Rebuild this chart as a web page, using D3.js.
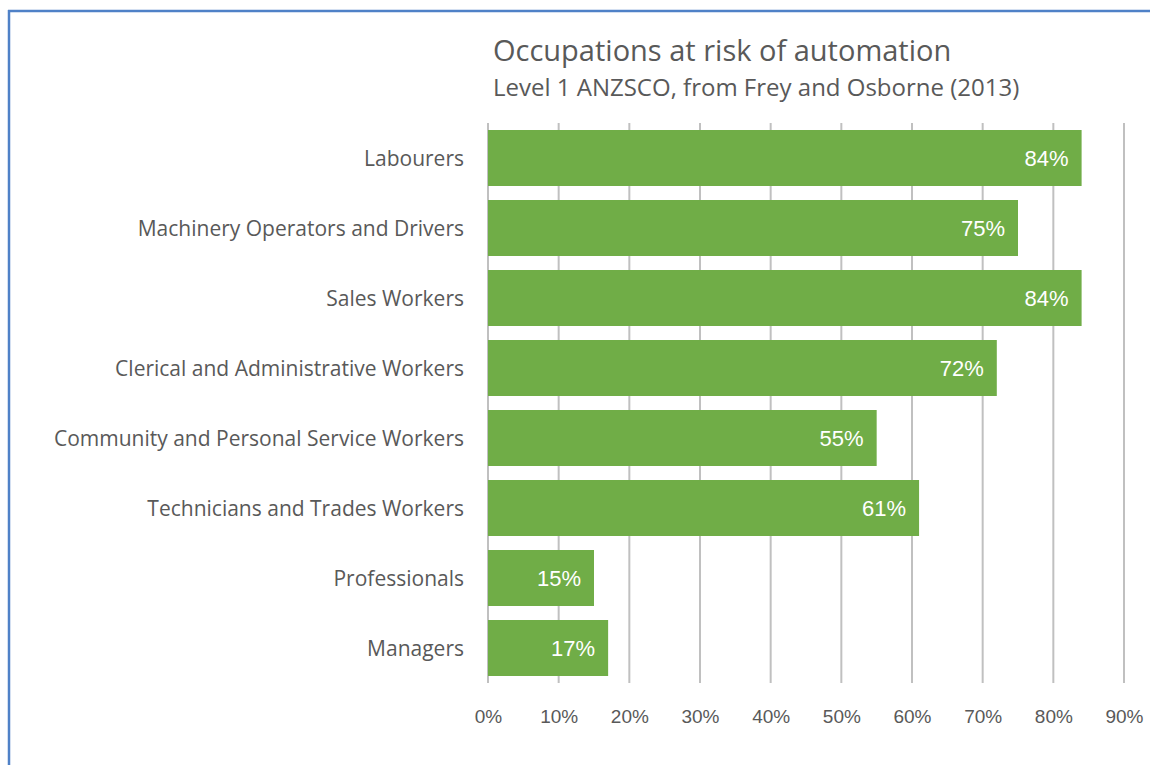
<!DOCTYPE html>
<html>
<head>
<meta charset="utf-8">
<script src="https://cdn.jsdelivr.net/npm/d3@7"></script>
<style>
  body { margin: 0; background: #fff; }
  svg { display: block; }
</style>
</head>
<body>
<script>
var categories = ["Labourers", "Machinery Operators and Drivers", "Sales Workers",
  "Clerical and Administrative Workers", "Community and Personal Service Workers",
  "Technicians and Trades Workers", "Professionals", "Managers"];
var values = [0.84, 0.75, 0.84, 0.72, 0.55, 0.61, 0.15, 0.17];
var tickValues = [0, 0.1, 0.2, 0.3, 0.4, 0.5, 0.6, 0.7, 0.8, 0.9];

var width = 1150, height = 765;
var margins = { top: 123, bottom: 82, left: 488, right: 26 };

var svg = d3.select("body").append("svg")
  .attr("width", width)
  .attr("height", height);

// blue frame (top and left edges only visible)
svg.append("line").attr("x1", 8).attr("x2", width).attr("y1", 11).attr("y2", 11)
  .attr("stroke", "#4f81c7").attr("stroke-width", 2.5);
svg.append("line").attr("x1", 9).attr("x2", 9).attr("y1", 10).attr("y2", height)
  .attr("stroke", "#4f81c7").attr("stroke-width", 2.5);

var x = d3.scaleLinear().domain([0, 0.9]).range([margins.left, width - margins.right]);
var y = d3.scaleBand().domain(categories)
  .range([margins.top, height - margins.bottom]).paddingInner(0.2).paddingOuter(0.1);

// gridlines
svg.append("g").selectAll("line")
  .data(tickValues)
  .enter()
  .append("line")
  .attr("x1", function(d){ return x(d); })
  .attr("x2", function(d){ return x(d); })
  .attr("y1", margins.top)
  .attr("y2", height - margins.bottom)
  .attr("stroke", "#c0c0c0")
  .attr("stroke-width", 2);

// bars
svg.append("g").selectAll("rect")
  .data(values)
  .enter()
  .append("rect")
  .attr("x", x(0))
  .attr("y", function(d, i){ return y(categories[i]); })
  .attr("width", function(d){ return x(d) - x(0); })
  .attr("height", y.bandwidth())
  .attr("fill", "#70ad47");

// value labels
svg.append("g").selectAll("text")
  .data(values)
  .enter()
  .append("text")
  .attr("x", function(d){ return x(d) - 13; })
  .attr("y", function(d, i){ return y(categories[i]) + y.bandwidth() / 2; })
  .attr("dy", "0.36em")
  .attr("text-anchor", "end")
  .attr("fill", "#fff")
  .style("font-family", "'Liberation Sans', Arial, sans-serif")
  .style("font-size", "22px")
  .text(function(d){ return Math.round(d * 100) + "%"; });

// category labels
svg.append("g").selectAll("text")
  .data(categories)
  .enter()
  .append("text")
  .attr("x", 464)
  .attr("y", function(d){ return y(d) + y.bandwidth() / 2; })
  .attr("dy", "0.36em")
  .attr("text-anchor", "end")
  .attr("fill", "#595959")
  .style("font-family", "'Open Sans', sans-serif")
  .style("font-size", "21px")
  .text(function(d){ return d; });

// x axis tick labels
var xAxis = d3.axisBottom(x).tickValues(tickValues).tickSize(0).tickPadding(0)
  .tickFormat(d3.format(".0%"));
var gx = svg.append("g")
  .attr("transform", "translate(0," + (height - margins.bottom + 26) + ")")
  .call(xAxis);
gx.select(".domain").remove();
gx.selectAll("text")
  .attr("fill", "#595959")
  .style("font-family", "'Liberation Sans', Arial, sans-serif")
  .style("font-size", "19px");

// titles
svg.append("text")
  .attr("x", 493).attr("y", 61)
  .attr("fill", "#595959")
  .style("font-family", "'Open Sans', sans-serif")
  .style("font-size", "29px")
  .text("Occupations at risk of automation");
svg.append("text")
  .attr("x", 493).attr("y", 96)
  .attr("fill", "#595959")
  .style("font-family", "'Open Sans', sans-serif")
  .style("font-size", "24px")
  .text("Level 1 ANZSCO, from Frey and Osborne (2013)");
</script>
</body>
</html>
